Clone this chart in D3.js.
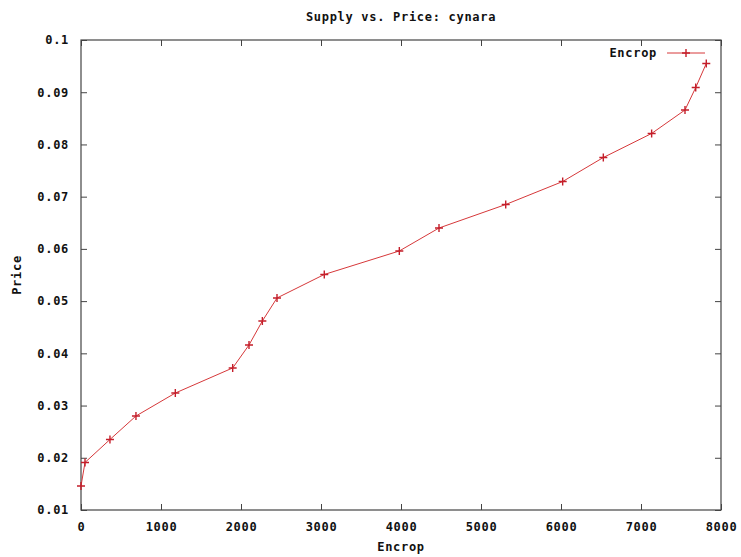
<!DOCTYPE html>
<html>
<head>
<meta charset="utf-8">
<script src="https://cdn.jsdelivr.net/npm/d3@7"></script>
<style>
  body{margin:0;background:#fff}
  text{font-family:"DejaVu Sans Mono",monospace;font-weight:bold;font-size:12px;letter-spacing:0.7px;fill:#111}
</style>
</head>
<body>
<script>
var supply=[0,50,362,687,1179,1896,2100,2267,2450,3041,3979,4475,5309,6021,6529,7133,7550,7684,7816]
var price=[0.0146,0.0191,0.0235,0.028,0.0324,0.0372,0.0416,0.0462,0.0506,0.0551,0.0596,0.064,0.0685,0.0729,0.0775,0.0821,0.0866,0.0909,0.0955]
var xTicks=[0,1000,2000,3000,4000,5000,6000,7000,8000]
var yTicks=[0.01,0.02,0.03,0.04,0.05,0.06,0.07,0.08,0.09,0.1]

var screen={width:741,height:557}
var margins={top:40,right:20,bottom:47,left:81}
var width=screen.width-margins.left-margins.right
var height=screen.height-margins.top-margins.bottom

var pts=supply.map(function(d,i){return {x:d,y:price[i]}})

var xScale=d3.scaleLinear().domain([0,8000]).range([0,width])
var yScale=d3.scaleLinear().domain([0.01,0.1]).range([height,0])

var svg=d3.select("body").append("svg")
          .attr("width",screen.width)
          .attr("height",screen.height)
var g=svg.append("g")
         .attr("transform","translate("+margins.left+","+margins.top+")")

var axisColor="#444"
//axes with inward ticks on all sides
var xAxis=d3.axisBottom(xScale).tickValues(xTicks).tickSize(-6).tickPadding(12).tickFormat(d3.format("d"))
var yAxis=d3.axisLeft(yScale).tickValues(yTicks).tickSize(-6).tickPadding(12).tickFormat(function(d){return String(+d.toFixed(2))})
g.append("g").attr("transform","translate(0,"+height+")").call(xAxis)
g.append("g").call(yAxis)
g.append("g").call(d3.axisTop(xScale).tickValues(xTicks).tickSize(-6).tickFormat(""))
g.append("g").attr("transform","translate("+width+",0)").call(d3.axisRight(yScale).tickValues(yTicks).tickSize(-6).tickFormat(""))
g.selectAll(".domain").remove()
g.selectAll(".tick line").attr("stroke",axisColor)
g.selectAll(".tick text").attr("fill","#111")
g.append("rect").attr("width",width).attr("height",height)
 .attr("fill","none").attr("stroke",axisColor).attr("stroke-width",1.2)

//line
var red="#d6383a"
var drawLine=d3.line().x(function(d){return xScale(d.x)}).y(function(d){return yScale(d.y)})
g.append("path").datum(pts).attr("d",drawLine)
 .attr("fill","none").attr("stroke",red).attr("stroke-width",1)

//markers
var cross="M-4,0H4M0,-4V4"
g.selectAll(".pt").data(pts).enter().append("path")
 .attr("class","pt")
 .attr("d",cross)
 .attr("transform",function(d){return "translate("+xScale(d.x)+","+yScale(d.y)+")"})
 .attr("stroke","#c41e2a").attr("stroke-width",1.4)

//legend
var legend=g.append("g").attr("transform","translate("+width+",13)")
legend.append("text").attr("x",-64).attr("y",4).attr("text-anchor","end").text("Encrop")
legend.append("line").attr("x1",-54).attr("x2",-16).attr("stroke",red)
legend.append("path").attr("d",cross).attr("transform","translate(-35,0)").attr("stroke","#c41e2a").attr("stroke-width",1.4)

//titles
svg.append("text").attr("x",margins.left+width/2).attr("y",21).attr("text-anchor","middle").text("Supply vs. Price: cynara")
svg.append("text").attr("x",margins.left+width/2).attr("y",551).attr("text-anchor","middle").text("Encrop")
svg.append("text").attr("transform","translate(21,"+(margins.top+height/2)+") rotate(-90)").attr("text-anchor","middle").text("Price")
</script>
</body>
</html>
